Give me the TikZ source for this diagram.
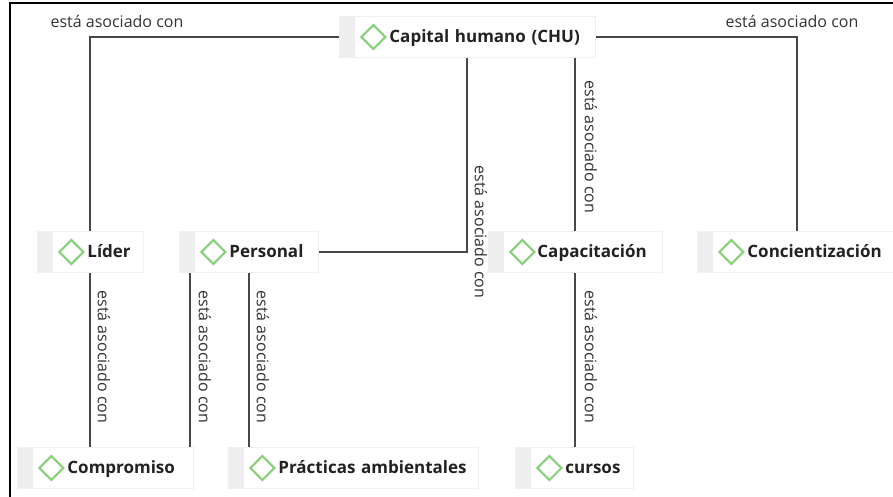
\documentclass[tikz,border=0pt]{standalone}
\usepackage{fontspec}
\setmainfont{Open Sans}
\definecolor{strip}{HTML}{EEEEEE}
\definecolor{rim}{HTML}{F0F0F0}
\definecolor{wire}{HTML}{474747}
\definecolor{leaf}{HTML}{88CF7A}
\definecolor{ink}{HTML}{222222}
\definecolor{labelink}{HTML}{333333}

\tikzset{
  concept/.style={rectangle, fill=strip, draw=rim, line width=0.8pt,
    minimum height=41pt, inner xsep=0pt, inner ysep=0pt, anchor=west,
    align=left, text=ink, font=\fontsize{17}{20}\selectfont\bfseries,
    execute at begin node={\rule[-5pt]{0pt}{21pt}},
    path picture={
      \fill[white] ([xshift=16pt]path picture bounding box.south west)
        rectangle (path picture bounding box.north east);
      \draw[leaf, line width=2pt, line join=miter]
        ([xshift=34pt]path picture bounding box.west)
        +(0,12) -- +(12,0) -- +(0,-12) -- +(-12,0) -- cycle;
    }},
  link/.style={draw=wire, line width=2pt},
  rel/.style={font=\fontsize{16}{19}\selectfont, text=labelink, inner sep=0pt},
}

\begin{document}
\begin{tikzpicture}[x=1pt, y=-1pt]
  \useasboundingbox (0,0) rectangle (893,497);

  % window frame
  \draw[black, line width=2.5pt] (893,3) -- (10,3) -- (10,497);

  % concepts
  \node[concept, text width=256pt] (chu)    at (339,37)  {\hspace*{50pt}Capital humano (CHU)};
  \node[concept, text width=106pt] (lider)  at (37,252)  {\hspace*{50pt}Líder};
  \node[concept, text width=139pt] (pers)   at (179,252) {\hspace*{50pt}Personal};
  \node[concept, text width=174pt] (capac)  at (488,252) {\hspace*{49pt}Capacitación};
  \node[concept, text width=200pt] (conc)   at (697,252) {\hspace*{50pt}Concientización};
  \node[concept, text width=176pt] (comp)   at (17,468)  {\hspace*{50pt}Compromiso};
  \node[concept, text width=250pt] (prac)   at (228,468) {\hspace*{50pt}Prácticas ambientales};
  \node[concept, text width=118pt] (cursos) at (515,468) {\hspace*{50pt}cursos};

  % relations
  \draw[link] (chu.west) -| (lider.north);
  \draw[link] (chu.east) -| (conc.north);
  \draw[link] (chu.south) |- (pers.east);
  \draw[link] (chu.south -| capac.north) -- (capac.north);
  \draw[link] (lider.south) -- (lider.south |- comp.north);
  \draw[link] ([xshift=11pt]pers.south west) -- ([xshift=11pt]pers.south west |- comp.north);
  \draw[link] (pers.south) -- (pers.south |- prac.north);
  \draw[link] (capac.south) -- (capac.south |- cursos.north);

  % relation labels
  \node[rel] (r1) at (117,21) {está asociado con};
  \node[rel] (r2) at (792,21) {está asociado con};
  \node[rel, rotate=-90] (r3) at (481,232) {está asociado con};
  \node[rel, rotate=-90] (r4) at (591,147) {está asociado con};
  \node[rel, rotate=-90] (r5) at (104,357) {está asociado con};
  \node[rel, rotate=-90] (r6) at (205,357) {está asociado con};
  \node[rel, rotate=-90] (r7) at (263,357) {está asociado con};
  \node[rel, rotate=-90] (r8) at (591,357) {está asociado con};
\end{tikzpicture}
\end{document}
